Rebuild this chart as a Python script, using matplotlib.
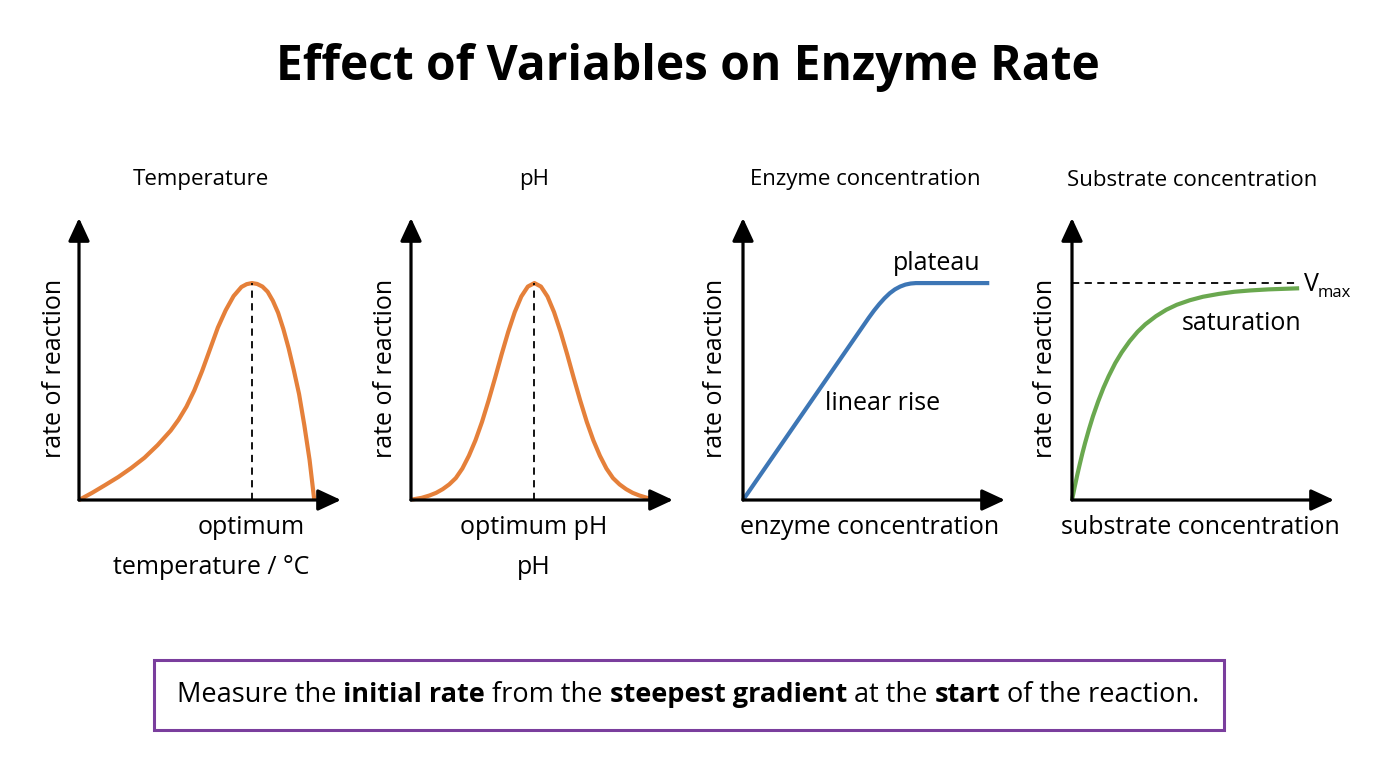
import matplotlib
matplotlib.use('Agg')
import matplotlib.pyplot as plt
from matplotlib.patches import Rectangle

plt.rcParams['font.family'] = ['Open Sans', 'Noto Sans', 'DejaVu Sans']

# curve values, x in % of axis length, rate in % of the peak
temp_x = [0, 5, 10, 15, 20, 25, 30, 35, 38, 41, 44, 47, 50, 53, 56, 59, 62, 64, 66,
          68, 70, 72, 74, 76, 78, 80, 82, 84, 86, 88, 89.8]
temp_y = [0, 3.3, 6.9, 10.6, 14.8, 19.5, 25.3, 32.0, 37.0, 43.0, 50.5, 59.5, 69.5, 79.5, 87.5, 94.0, 98.2, 99.5, 100,
          99.6, 98.4, 96.0, 91.8, 86.3, 78.8, 70.0, 59.8, 48.8, 34.5, 18.5, 0]

ph_x = [0.3, 4.1, 7.1, 9.6, 12.1, 14.6, 17.1, 19.6, 22.1, 24.6, 27.1, 29.6, 32.1, 34.6, 37.1, 39.6, 42.1, 44.6, 47.1,
        49.6, 52.1, 54.6, 57.1, 59.6, 62.1, 64.6, 67.1, 69.6, 72.1, 74.6, 77.1, 79.6, 82.1, 84.6, 87.1, 90.1, 93.9]
ph_y = [0.2, 1.0, 2.1, 3.3, 5.0, 7.2, 10.1, 14.5, 20.4, 27.5, 36.0, 45.8, 56.3, 67.2, 77.5, 86.6, 93.8, 98.4, 100,
        98.4, 93.8, 86.6, 77.5, 67.2, 56.3, 45.8, 36.0, 27.5, 20.4, 14.5, 10.1, 7.2, 5.0, 3.3, 2.1, 1.0, 0.2]

enz_x = [0, 44, 46, 48, 50, 52, 54, 56, 58, 60, 62, 64, 66, 94]
enz_y = [0, 77, 80.5, 84, 87.3, 90.3, 93, 95.3, 97.1, 98.4, 99.3, 99.8, 100, 100]

sub_x = [0, 1, 2, 3, 4, 5, 6.5, 8, 10, 12, 14, 16.5, 19, 22, 25, 28, 32, 36, 40, 45, 50, 56, 62, 68, 75, 82, 86.7]
sub_y = [0, 5.9, 11.5, 16.7, 21.7, 26.3, 32.7, 38.6, 45.5, 51.7, 57.1, 63.1, 68.1, 73.2, 77.5, 81.0, 84.7, 87.7,
         90.0, 92.1, 93.7, 95.0, 96.0, 96.6, 97.1, 97.4, 97.6]

optimum_temp = 65.9
optimum_ph = 47.1
vmax = 100
vmax_end = 86.6

W, H = 1376, 768
fig = plt.figure(figsize=(W / 100, H / 100), dpi=100)
fig.patch.set_facecolor('white')


def fx(px):
    return px / W


def fy(py):
    return 1 - py / H


def make_axes(left):
    ax = fig.add_axes([fx(left), fy(500), 262 / W, 282 / H])
    ax.set_xlim(0, 100)
    ax.set_ylim(0, 130)
    ax.set_axis_off()
    arrow = dict(arrowstyle='-|>,head_length=1.4,head_width=0.65', color='black',
                 lw=2.3, shrinkA=0, shrinkB=0)
    ax.annotate('', xy=(100, 0), xytext=(0, 0), arrowprops=arrow, annotation_clip=False)
    ax.annotate('', xy=(0, 130), xytext=(0, 0), arrowprops=arrow, annotation_clip=False)
    return ax


orange = '#e5803a'
blue = '#3d76b5'
green = '#6aa84f'

ax1 = make_axes(79)
ax1.plot(temp_x, temp_y, color=orange, lw=3, clip_on=False, solid_capstyle='butt')
ax1.plot([optimum_temp, optimum_temp], [0, 100], color='black', lw=1.3, ls=(0, (4, 3)))

ax2 = make_axes(411)
ax2.plot(ph_x, ph_y, color=orange, lw=3, clip_on=False, solid_capstyle='butt')
ax2.plot([optimum_ph, optimum_ph], [0, 100], color='black', lw=1.3, ls=(0, (4, 3)))

ax3 = make_axes(743)
ax3.plot(enz_x, enz_y, color=blue, lw=3, clip_on=False, solid_capstyle='butt')

ax4 = make_axes(1072)
ax4.plot([0, vmax_end], [vmax, vmax], color='black', lw=1.3, ls=(0, (4, 3)))
ax4.plot(sub_x, sub_y, color=green, lw=3, clip_on=False, solid_capstyle='butt')

# title
fig.text(fx(688), fy(67), 'Effect of Variables on Enzyme Rate', fontsize=34.5, fontweight='bold',
         ha='center', va='center')

# panel titles
for px, t in [(201, 'Temperature'), (534, 'pH'), (865, 'Enzyme concentration'),
              (1192, 'Substrate concentration')]:
    fig.text(fx(px), fy(180), t, fontsize=16, ha='center', va='center')

# y labels
for px in [55, 385, 716, 1045]:
    fig.text(fx(px), fy(368), 'rate of reaction', fontsize=18, rotation=90, ha='center', va='center')

# x labels
fs = 18
fig.text(fx(251), fy(528), 'optimum', fontsize=fs, ha='center', va='center')
fig.text(fx(211), fy(568), 'temperature / °C', fontsize=fs, ha='center', va='center')
fig.text(fx(534), fy(528), 'optimum pH', fontsize=fs, ha='center', va='center')
fig.text(fx(534), fy(568), 'pH', fontsize=fs, ha='center', va='center')
fig.text(fx(870), fy(528), 'enzyme concentration', fontsize=fs, ha='center', va='center')
fig.text(fx(1200), fy(528), 'substrate concentration', fontsize=fs, ha='center', va='center')

# annotations
fig.text(fx(937), fy(263), 'plateau', fontsize=fs, ha='center', va='center')
fig.text(fx(883), fy(404), 'linear rise', fontsize=fs, ha='center', va='center')
fig.text(fx(1242), fy(323), 'saturation', fontsize=fs, ha='center', va='center')
fig.text(fx(1304), fy(284), 'V', fontsize=fs, ha='left', va='center')
fig.text(fx(1318), fy(293), 'max', fontsize=12, ha='left', va='center')

# bottom box
box = Rectangle((fx(154), fy(730)), (1224 - 154) / W, 70 / H, transform=fig.transFigure,
                facecolor='white', edgecolor='#7a3e9d', lw=2.2)
fig.patches.append(box)

pieces = [('Measure the ', 'normal'), ('initial rate', 'bold'), (' from the ', 'normal'),
          ('steepest gradient', 'bold'), (' at the ', 'normal'), ('start', 'bold'),
          (' of the reaction.', 'normal')]
renderer = fig.canvas.get_renderer()
texts = []
for s, w in pieces:
    t = fig.text(0, fy(695), s.replace(' ', '\u00a0'), fontsize=19.5, fontweight=w, ha='left', va='center')
    texts.append(t)
widths = [t.get_window_extent(renderer).width for t in texts]
x = 688 - sum(widths) / 2
for t, w in zip(texts, widths):
    t.set_x(fx(x))
    x += w

plt.savefig('out.png', dpi=100)
